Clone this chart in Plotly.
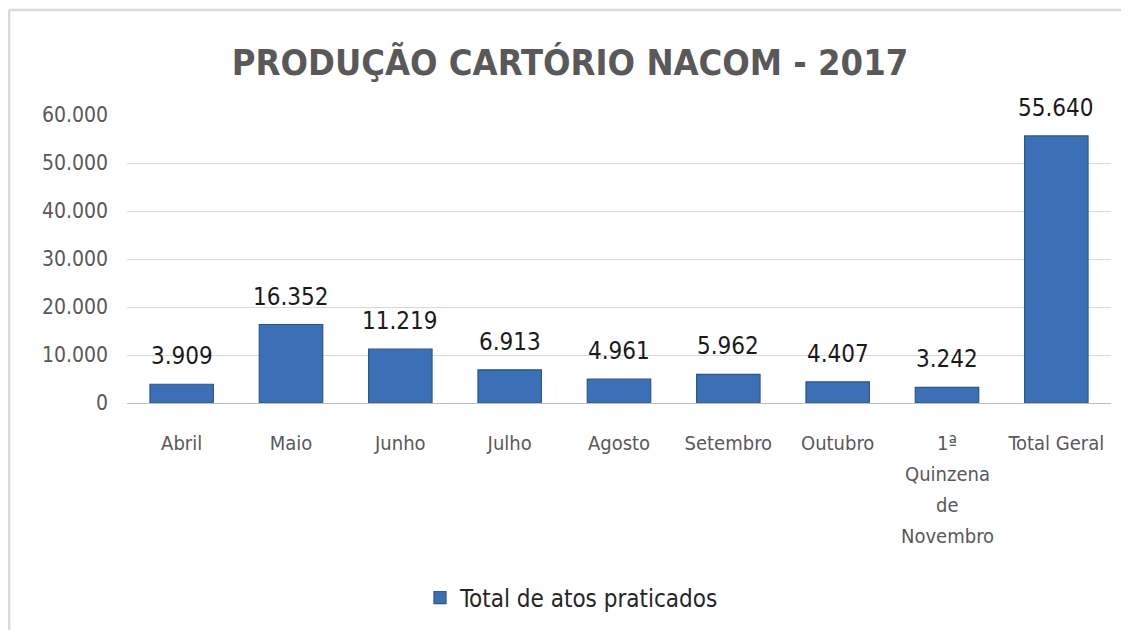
import plotly.graph_objects as go

categories = ["Abril", "Maio", "Junho", "Julho", "Agosto", "Setembro", "Outubro",
              "1ª Quinzena de Novembro", "Total Geral"]
tick_labels = ["Abril", "Maio", "Junho", "Julho", "Agosto", "Setembro", "Outubro",
               "1ª", "Total Geral"]
values = [3909, 16352, 11219, 6913, 4961, 5962, 4407, 3242, 55640]
extra_lines = ["Quinzena", "de", "Novembro"]
y_ticks = [0, 10000, 20000, 30000, 40000, 50000, 60000]

# page body adds an 8px offset; positions below are in figure coordinates
W, H = 1129, 630
OFF = 8
ML, MT = 127 - OFF, 115 - OFF
MR = W - (1111 - OFF)
MB = H - (403 - OFF)
FONT = "Liberation Sans Narrow, DejaVu Sans Condensed, Arial Narrow, sans-serif"


def fmt(v):
    return f"{v:,}".replace(",", ".")


fig = go.Figure()
fig.add_trace(go.Bar(
    x=categories, y=values, name="Total de atos praticados",
    marker=dict(color="#3C70B6", line=dict(color="#2A5590", width=1.2)),
    width=0.58,
))

for c, v in zip(categories, values):
    fig.add_annotation(x=c, y=v, xref="x", yref="y", text=fmt(v),
                       showarrow=False, yanchor="bottom", yshift=12,
                       font=dict(family=FONT, size=24, color="#1a1a1a"))

pw = W - ML - MR
ph = H - MT - MB
ytop = (H - MB - 2) / ph
xl = (1 - ML) / pw
fig.add_shape(type="line", xref="paper", yref="paper",
              x0=xl, x1=(W - ML + 20) / pw, y0=ytop, y1=ytop,
              line=dict(color="#D9D9D9", width=2.5))
fig.add_shape(type="line", xref="paper", yref="paper",
              x0=xl, x1=xl, y0=ytop, y1=-(MB + 20) / ph,
              line=dict(color="#D9D9D9", width=2.5))

for i, line in enumerate(extra_lines):
    fig.add_annotation(x=categories[7], y=0, xref="x", yref="y",
                       text=line, showarrow=False, yanchor="middle",
                       yshift=-(40 + 31 * i + 31),
                       font=dict(family=FONT, size=20, color="#595959"))

fig.update_layout(
    width=W, height=H,
    margin=dict(l=ML, r=MR, t=MT, b=MB),
    paper_bgcolor="white", plot_bgcolor="white",
    separators=",.",
    title=dict(text="<b>PRODUÇÃO CARTÓRIO NACOM - 2017</b>", xref="paper",
               x=(570 - OFF - ML) / pw, xanchor="center",
               y=1 - (62 - OFF) / H, yanchor="middle",
               font=dict(family=FONT, size=36, color="#595959")),
    showlegend=True,
    legend=dict(orientation="h", x=(572 - OFF - ML) / pw, xanchor="center",
                y=-(598 - 403) / ph, yanchor="middle",
                font=dict(family=FONT, size=24, color="#262626")),
)
fig.update_xaxes(tickvals=categories, ticktext=tick_labels, showgrid=False,
                 showline=True, linecolor="#BFBFBF", linewidth=1, ticks="",
                 ticklabelstandoff=22,
                 tickfont=dict(family=FONT, size=20, color="#595959"))
fig.update_yaxes(range=[0, 60000], tickvals=y_ticks, tickformat=",",
                 showgrid=True, gridcolor="#D9D9D9", gridwidth=1, zeroline=False,
                 ticks="", ticklabelstandoff=18,
                 tickfont=dict(family=FONT, size=21, color="#595959"))

fig.write_html("out.html")
